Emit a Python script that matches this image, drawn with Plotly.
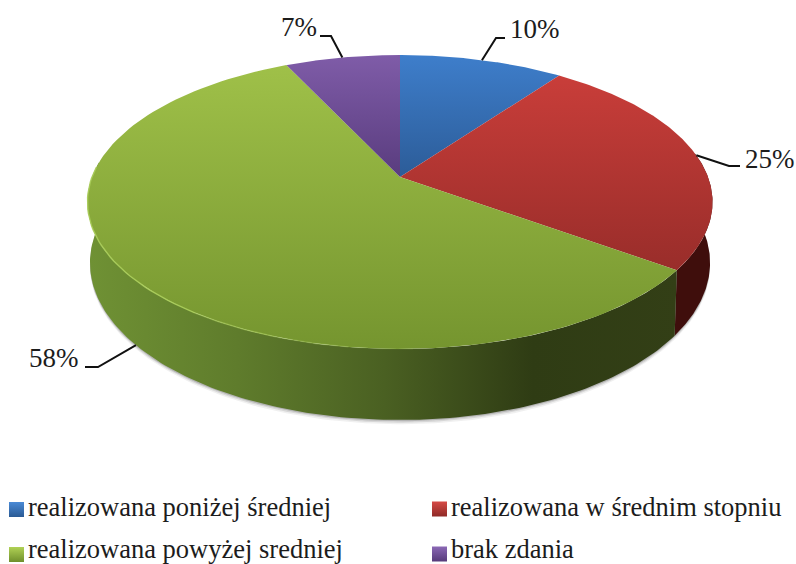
import numpy as np
import plotly.graph_objects as go

# --- data ---
categories = ["realizowana poniżej średniej", "realizowana w średnim stopniu",
              "realizowana powyżej sredniej", "brak zdania"]
values = [10, 25, 58, 7]
labels = ["10%", "25%", "58%", "7%"]

# --- style ---
top_grad = [("#3e7ecb", "#2c5c98", 55, 177), ("#ca3e3a", "#992d2a", 70, 270),
            ("#a0c149", "#75952f", 60, 349), ("#7f5ca8", "#593c7e", 55, 177)]
swatch = [("#4a8ad6", "#2a5a94"), ("#d64a45", "#8f2a27"), ("#b0d155", "#6f8f2c"), ("#8b68b5", "#563a7a")]
FONT = "Liberation Serif"

# --- perspective model of the pie disc, in canvas pixels ---
CX, CY, A, B, K, H, SHRINK = 400.0, 177.0, 308.0, 142.7, 0.17, 59.0, 0.992


def top(theta):
    X, Y = np.sin(theta), -np.cos(theta)
    d = 1 - K * Y
    return CX + A * X / d, CY + B * Y / d


def bottom(theta, extra=0.0):
    X, Y = np.sin(theta), -np.cos(theta)
    d = 1 - K * Y
    return CX + SHRINK * A * X / d, CY + (B * Y + H + extra) / d


total = sum(values)
edges = np.radians(np.cumsum([0] + values) / total * 360)
mids = (edges[:-1] + edges[1:]) / 2
VIS_L, VIS_R = np.radians(80), np.radians(276)

fig = go.Figure()

# soft shadow below the wall
for extra, alpha in [(3.5, .07), (2.2, .12), (1.0, .2)]:
    t = np.linspace(VIS_L, VIS_R, 200)
    x, y = bottom(t, extra)
    fig.add_trace(go.Scatter(x=np.r_[x, x[::-1]], y=np.r_[y, y[::-1] - 60], mode="lines", fill="toself",
                             line=dict(width=0), fillcolor=f"rgba(40,40,40,{alpha})",
                             hoverinfo="skip", showlegend=False))


def wall(a0, a1, name, **fillkw):
    t = np.linspace(a0, a1, 160)
    xt, yt = top(t)
    xb, yb = bottom(t)
    fig.add_trace(go.Scatter(x=np.r_[xt, xb[::-1]], y=np.r_[yt, yb[::-1]], mode="lines", fill="toself",
                             line=dict(width=0), name=name, hoverinfo="skip", showlegend=False, **fillkw))


# side walls: only the slices that reach the near side of the disc
wall(VIS_L, edges[2], categories[1], fillcolor="#3f0e0c")
wall(edges[2], VIS_R, categories[2],
     fillgradient=dict(type="horizontal", start=90, stop=680,
                       colorscale=[[0, "#6f9134"], [.25, "#5f7c2c"], [.5, "#4a6022"], [.75, "#2f3c14"], [1, "#333f16"]]))

# top surface
for i, cat in enumerate(categories):
    t = np.linspace(edges[i], edges[i + 1], 120)
    x, y = top(t)
    c0, c1, y0, y1 = top_grad[i]
    fig.add_trace(go.Scatter(x=np.r_[CX, x, CX], y=np.r_[CY, y, CY], mode="lines", fill="toself",
                             line=dict(width=0), name=cat, text=[labels[i]] * (len(x) + 2), hoverinfo="name+text",
                             fillgradient=dict(type="vertical", start=y0, stop=y1, colorscale=[[0, c0], [1, c1]]),
                             showlegend=False))

# light rim along the near-left edge, fading out towards the front
for a0, a1, alpha in [(215, 274, .9), (200, 215, .6), (188, 200, .35), (178, 188, .15)]:
    t = np.linspace(np.radians(a0), np.radians(a1), 40)
    x, y = top(t)
    fig.add_trace(go.Scatter(x=x, y=y, mode="lines", line=dict(color=f"rgba(170,205,90,{alpha})", width=1.4),
                             hoverinfo="skip", showlegend=False))

# leader lines, starting at each slice's mid-angle on the rim
elbows = [((496, 38), (505, 38)), ((729, 166), (740, 166)), ((98, 367), (85, 367)), ((331, 36), (320, 36))]
label_pos = [(535, 29), (770, 159), (54, 358), (299, 27)]
for i, (mid, el) in enumerate(zip(mids, elbows)):
    sx, sy = bottom(mid) if np.cos(mid) < -.2 else top(mid)
    fig.add_trace(go.Scatter(x=[sx, el[0][0], el[1][0]], y=[sy, el[0][1], el[1][1]], mode="lines",
                             line=dict(color="#111111", width=2), hoverinfo="skip", showlegend=False))
    fig.add_annotation(x=label_pos[i][0], y=label_pos[i][1], text=labels[i], showarrow=False,
                       font=dict(family=FONT, size=27, color="#1c1c1c"), xanchor="center", yanchor="middle")

# legend built as markers and text
leg_x = [16.5, 439.5, 16.5, 439.5]
leg_y = [509.5, 509, 554.5, 554]
text_y = [507, 507, 548.5, 548.5]
for i, cat in enumerate(categories):
    fig.add_trace(go.Scatter(x=[leg_x[i]], y=[leg_y[i]], mode="markers", hoverinfo="skip", showlegend=False,
                             marker=dict(symbol="square", size=15, color=swatch[i][0],
                                         gradient=dict(type="vertical", color=swatch[i][1]),
                                         line=dict(width=0))))
    fig.add_annotation(x=leg_x[i] + 9, y=text_y[i], text=cat, showarrow=False, xanchor="left", yanchor="middle",
                       font=dict(family=FONT, size=26.5, color="#1c1c1c"))

fig.update_layout(width=796, height=564, autosize=False, margin=dict(l=0, r=0, t=0, b=0),
                  paper_bgcolor="white", plot_bgcolor="white", showlegend=False,
                  xaxis=dict(range=[0, 796], visible=False, fixedrange=True),
                  yaxis=dict(range=[564, 0], visible=False, fixedrange=True))

fig.write_html("out.html", config=dict(displayModeBar=False),
               post_script='document.body.style.margin="0";')
